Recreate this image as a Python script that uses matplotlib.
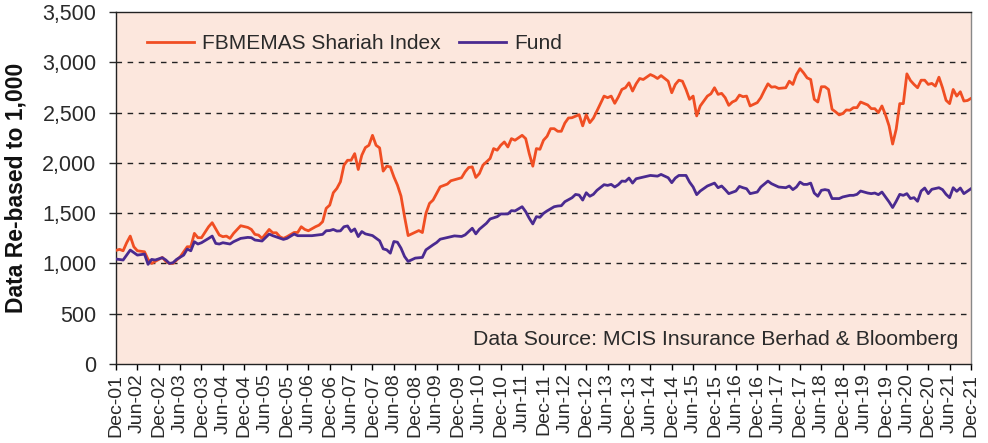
import matplotlib
matplotlib.use("Agg")
import matplotlib.pyplot as plt
from matplotlib.ticker import FuncFormatter

plt.rcParams['font.family'] = ['Liberation Sans', 'DejaVu Sans']

# month offsets from Dec-01 and values
index_months = [0, 1, 2, 3, 4, 5, 6, 8, 9, 10, 11, 13, 14, 15, 16, 18, 19, 20, 21, 22, 23, 24, 26, 27, 29, 30,
                31, 32, 33, 35, 37, 38, 39, 40, 41, 43, 44, 45, 46, 47, 48, 50, 51, 52, 53, 54, 56, 57, 58, 59,
                60, 61, 62, 63, 64, 65, 66, 67, 68, 69, 70, 71, 72, 73, 74, 75, 76, 77, 78, 79, 80, 81, 82, 83,
                84, 85, 86, 87, 88, 89, 90, 91, 93, 94, 96, 97, 98, 99, 100, 101, 102, 103, 104, 105, 106, 107,
                108, 109, 110, 111, 112, 114, 115, 116, 117, 118, 119, 120, 121, 122, 123, 124, 125, 126, 127,
                128, 130, 131, 132, 133, 134, 135, 137, 138, 139, 140, 141, 142, 143, 144, 145, 146, 147, 148,
                150, 151, 152, 153, 155, 156, 157, 158, 159, 160, 161, 162, 163, 164, 166, 167, 168, 169, 170,
                171, 172, 173, 174, 175, 176, 177, 178, 180, 181, 182, 183, 184, 185, 186, 188, 189, 190, 191,
                192, 193, 194, 195, 196, 197, 198, 199, 200, 201, 202, 203, 204, 205, 206, 207, 208, 209, 211,
                212, 213, 214, 215, 216, 217, 218, 219, 220, 221, 222, 223, 224, 225, 226, 227, 228, 229, 230,
                231, 232, 233, 234, 235, 236, 237, 238, 239, 240]
index_values = [1130, 1140, 1126, 1206, 1272, 1166, 1126, 1116, 1040, 1000, 1020, 1060, 1020, 1000, 1000, 1065,
                1116, 1166, 1166, 1299, 1256, 1256, 1365, 1405, 1282, 1266, 1272, 1249, 1299, 1375, 1358, 1338,
                1289, 1282, 1249, 1338, 1305, 1305, 1266, 1249, 1266, 1308, 1308, 1365, 1338, 1325, 1365, 1381,
                1415, 1548, 1580, 1703, 1746, 1812, 1977, 2026, 2026, 2092, 1934, 2076, 2152, 2175, 2274, 2175,
                2149, 1918, 1967, 1960, 1861, 1779, 1670, 1465, 1277, 1294, 1310, 1327, 1307, 1498, 1597, 1630,
                1696, 1762, 1789, 1822, 1842, 1852, 1911, 1954, 1960, 1855, 1894, 1977, 2010, 2043, 2142, 2126,
                2175, 2208, 2158, 2241, 2225, 2274, 2241, 2092, 1967, 2142, 2135, 2225, 2264, 2340, 2340, 2314,
                2314, 2396, 2446, 2449, 2479, 2368, 2479, 2400, 2444, 2516, 2664, 2648, 2664, 2592, 2655, 2730,
                2747, 2796, 2714, 2786, 2839, 2829, 2878, 2862, 2839, 2868, 2812, 2697, 2780, 2822, 2812, 2730,
                2632, 2664, 2467, 2566, 2664, 2687, 2747, 2681, 2691, 2648, 2572, 2605, 2622, 2674, 2658, 2664,
                2566, 2599, 2648, 2720, 2786, 2753, 2757, 2740, 2747, 2812, 2780, 2878, 2937, 2895, 2845, 2829,
                2632, 2605, 2757, 2757, 2730, 2533, 2507, 2477, 2490, 2526, 2523, 2549, 2549, 2605, 2576, 2539,
                2539, 2500, 2566, 2477, 2368, 2187, 2335, 2589, 2589, 2885, 2819, 2780, 2747, 2822, 2822, 2780,
                2790, 2763, 2852, 2747, 2622, 2589, 2730, 2664, 2707, 2615, 2620, 2641]

fund_months = [0, 2, 4, 6, 8, 9, 10, 11, 13, 14, 15, 16, 17, 19, 20, 21, 22, 23, 24, 26, 27, 28, 29, 30, 32,
               33, 35, 37, 38, 39, 41, 43, 44, 47, 48, 50, 51, 55, 58, 59, 60, 61, 62, 63, 64, 65, 66, 67, 68,
               69, 70, 72, 74, 75, 76, 77, 78, 79, 80, 81, 82, 84, 85, 86, 87, 89, 90, 91, 93, 95, 97, 98, 99,
               100, 101, 102, 104, 105, 107, 108, 110, 111, 112, 114, 115, 116, 117, 118, 119, 120, 121, 123,
               124, 125, 126, 128, 129, 130, 131, 132, 133, 134, 135, 137, 138, 139, 140, 141, 142, 143, 144,
               145, 146, 148, 150, 152, 153, 155, 156, 157, 158, 160, 161, 162, 163, 164, 166, 168, 169, 170,
               171, 172, 174, 175, 176, 177, 178, 180, 181, 183, 184, 186, 188, 189, 190, 191, 192, 193, 194,
               195, 196, 197, 198, 199, 200, 201, 203, 204, 206, 207, 208, 209, 211, 212, 213, 214, 215, 216,
               217, 218, 219, 220, 221, 222, 223, 224, 225, 226, 227, 228, 229, 231, 232, 233, 234, 235, 236,
               237, 238, 240]
fund_values = [1044, 1034, 1133, 1083, 1093, 991, 1040, 1034, 1057, 1034, 1000, 1007, 1040, 1083, 1143, 1126,
               1216, 1193, 1206, 1249, 1272, 1199, 1193, 1206, 1193, 1216, 1249, 1259, 1256, 1233, 1223, 1292,
               1276, 1239, 1249, 1292, 1276, 1276, 1289, 1325, 1327, 1338, 1322, 1324, 1365, 1373, 1317, 1343,
               1267, 1317, 1294, 1277, 1225, 1145, 1135, 1102, 1218, 1211, 1152, 1069, 1020, 1053, 1056, 1060,
               1135, 1185, 1208, 1241, 1258, 1274, 1268, 1284, 1317, 1350, 1294, 1340, 1400, 1442, 1465, 1492,
               1492, 1525, 1522, 1564, 1515, 1449, 1393, 1465, 1459, 1498, 1522, 1564, 1571, 1574, 1614, 1653,
               1686, 1680, 1630, 1703, 1668, 1687, 1727, 1783, 1776, 1786, 1760, 1783, 1819, 1816, 1849, 1799,
               1842, 1858, 1875, 1868, 1885, 1852, 1803, 1849, 1875, 1875, 1809, 1760, 1684, 1720, 1770, 1799,
               1753, 1770, 1734, 1694, 1720, 1766, 1753, 1743, 1694, 1710, 1760, 1819, 1793, 1760, 1753,
               1770, 1734, 1760, 1809, 1786, 1786, 1799, 1700, 1668, 1727, 1734, 1727, 1645, 1645, 1661, 1677,
               1677, 1687, 1720, 1700, 1694, 1700, 1684, 1710, 1661, 1612, 1556, 1618, 1687, 1677, 1694, 1645,
               1654, 1618, 1720, 1750, 1694, 1737, 1753, 1734, 1687, 1654, 1753, 1717, 1750, 1694, 1743]

tick_months = list(range(0, 241, 6))
tick_labels = [("Dec-%02d" % (1 + m // 12)) if m % 12 == 0 else ("Jun-%02d" % (2 + m // 12)) for m in tick_months]
y_ticks = [0, 500, 1000, 1500, 2000, 2500, 3000, 3500]

series_names = ["FBMEMAS Shariah Index", "Fund"]
orange = "#F04E23"
purple = "#4A2A90"
text_col = "#2a2a2a"

fig = plt.figure(figsize=(9.88, 4.43), dpi=100)
ax = fig.add_axes([0.1174, 0.1783, 0.8654, 0.7946])
ax.set_facecolor("#FCE7DD")

ax.plot(index_months, index_values, color=orange, lw=2.0, label=series_names[0], zorder=3)
ax.plot(fund_months, fund_values, color=purple, lw=2.0, label=series_names[1], zorder=3)

ax.set_xlim(0, 240)
ax.set_ylim(0, 3500)
ax.set_yticks(y_ticks)
ax.yaxis.set_major_formatter(FuncFormatter(lambda v, p: f"{int(v):,}"))
ax.set_xticks(tick_months)
ax.set_xticklabels(tick_labels, rotation=90, fontsize=14, color=text_col)
ax.tick_params(axis='y', labelsize=15.5, colors=text_col, direction='out', length=5, width=1, pad=9)
ax.tick_params(axis='x', direction='out', length=4, width=1, pad=3)

for v in y_ticks[1:-1]:
    ax.axhline(v, color="#222222", lw=1.0, ls=(0, (4, 4)), zorder=2)

for s in ["left", "bottom", "top"]:
    ax.spines[s].set_color("#222222")
    ax.spines[s].set_linewidth(1.0)
ax.spines["right"].set_color("#888888")
ax.spines["right"].set_linewidth(1.0)

ax.set_ylabel("Data Re-based to 1,000", fontsize=16.5, fontweight="bold", color="#111111")
ax.yaxis.set_label_coords(-0.103, 0.5)

leg = ax.legend(loc="upper left", bbox_to_anchor=(0.014, 0.99), ncol=2, frameon=False,
                fontsize=15, handlelength=2.25, columnspacing=0.9, handletextpad=0.4,
                labelcolor=text_col)

ax.text(0.985, 0.07, "Data Source: MCIS Insurance Berhad & Bloomberg", transform=ax.transAxes,
        ha="right", va="center", fontsize=15.3, color=text_col)

fig.savefig("out.png", dpi=100)
